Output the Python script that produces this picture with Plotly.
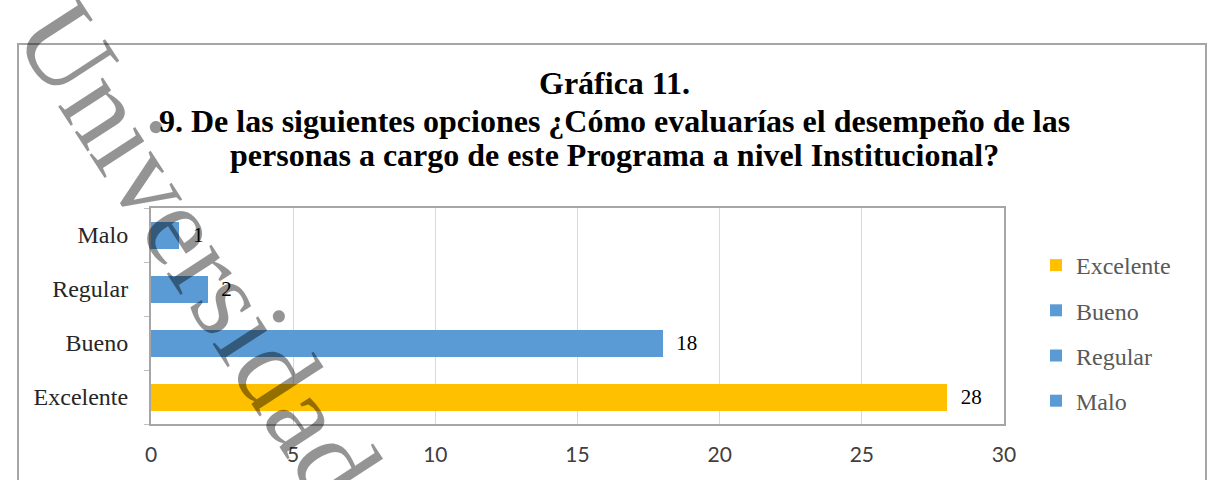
import plotly.graph_objects as go

categories = ["Excelente", "Bueno", "Regular", "Malo"]
values = [28, 18, 2, 1]
colors = ["#FFC000", "#5B9BD5", "#5B9BD5", "#5B9BD5"]
x_ticks = [0, 5, 10, 15, 20, 25, 30]

title_lines = [
    "Gráfica 11.",
    "9. De las siguientes opciones ¿Cómo evaluarías el desempeño de las",
    "personas a cargo de este Programa a nivel Institucional?",
]
watermark = "Universidad"

SERIF = "Liberation Serif, Times New Roman, serif"

fig = go.Figure()
for cat, val, col in zip(categories, values, colors):
    fig.add_trace(go.Bar(
        y=[cat], x=[val], orientation="h", name=cat,
        marker=dict(color=col, line=dict(width=0)),
        texttemplate="\u00a0\u00a0%{x}", textposition="outside",
        textfont=dict(family=SERIF, size=21, color="#000000"),
        cliponaxis=False, legendgroup=cat,
    ))

W, H = 1208, 480
L, R, T, B = 151, 204, 208, 56
pw, ph = W - L - R, H - T - B

def px_x(p):
    return (p - L) / pw

def px_y(p):
    return (H - B - p) / ph

fig.update_layout(
    width=W, height=H,
    margin=dict(l=L, r=R, t=T, b=B),
    paper_bgcolor="white", plot_bgcolor="white",
    barmode="stack", bargap=0.5,
    legend=dict(x=px_x(1036), y=px_y(333), xanchor="left", yanchor="middle",
                font=dict(family=SERIF, size=24, color="#595959"),
                traceorder="grouped", tracegroupgap=11,
                bgcolor="rgba(0,0,0,0)"),
    showlegend=True,
)

fig.update_xaxes(range=[0, 30], tickvals=x_ticks, showgrid=True, gridcolor="#D9D9D9",
                 gridwidth=1, zeroline=False,
                 showline=True, linecolor="#A6A6A6", linewidth=2, mirror=True,
                 ticks="outside", ticklen=11, tickcolor="rgba(0,0,0,0)",
                 tickfont=dict(family="Lato, Open Sans, sans-serif", size=21, color="#404040"))
fig.update_yaxes(type="category", categoryorder="array", categoryarray=categories,
                 showgrid=False, zeroline=False,
                 showline=True, linecolor="#A6A6A6", linewidth=2, mirror=True,
                 ticks="outside", tickson="boundaries", ticklen=5, tickcolor="#BFBFBF",
                 ticklabelstandoff=16,
                 tickfont=dict(family=SERIF, size=24, color="#262626"))

# title lines
TS = 32
for line, base in zip(title_lines, [93, 131, 165]):
    fig.add_annotation(text="<b>" + line + "</b>", xref="paper", yref="paper",
                       x=px_x(614), y=px_y(base - 0.32 * TS), xanchor="center", yanchor="middle",
                       showarrow=False, font=dict(family=SERIF, size=TS, color="#000000"))

# outer chart border
fig.add_shape(type="rect", xref="paper", yref="paper",
              x0=px_x(18), x1=px_x(1206), y0=px_y(520), y1=px_y(44),
              line=dict(color="#A6A6A6", width=2), fillcolor="rgba(0,0,0,0)", layer="above")

# watermark
fig.add_annotation(text=watermark, xref="paper", yref="paper",
                   x=px_x(198), y=px_y(250), xanchor="center", yanchor="middle",
                   showarrow=False, textangle=57,
                   font=dict(family=SERIF, size=116, color="rgba(0,0,0,0.42)"))

fig.write_html("out.html", config={"displayModeBar": False},
               post_script="document.body.style.margin='0';")
